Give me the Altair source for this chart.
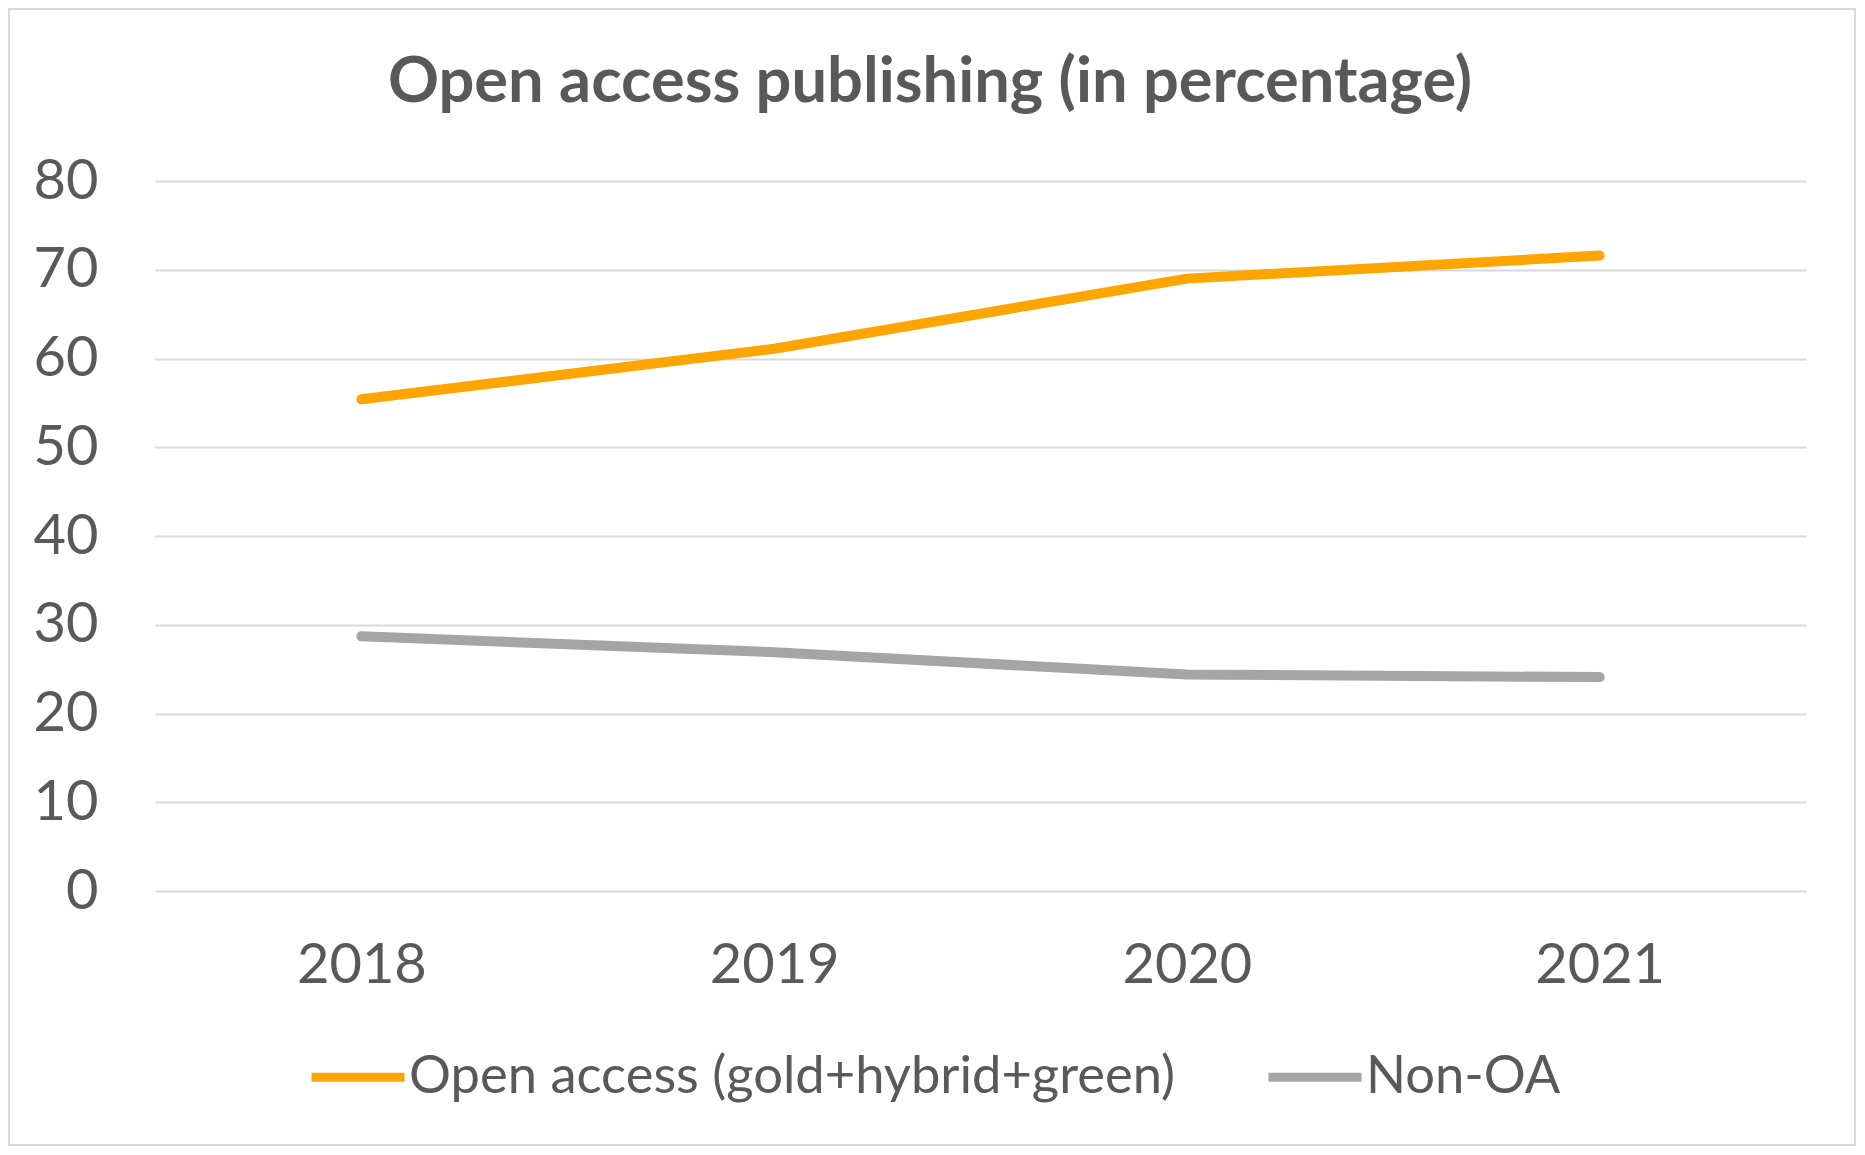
import altair as alt
import pandas as pd

years = ["2018", "2019", "2020", "2021"]
open_access = [55.4, 61.1, 69.0, 71.6]
non_oa = [28.7, 26.9, 24.4, 24.1]
series_names = ["Open access (gold+hybrid+green)", "Non-OA"]
series_colors = ["#FFA500", "#A5A5A5"]

rows = []
for y, v in zip(years, open_access):
    rows.append({"year": y, "value": v, "series": series_names[0]})
for y, v in zip(years, non_oa):
    rows.append({"year": y, "value": v, "series": series_names[1]})
df = pd.DataFrame(rows)

FONT = "Lato"
TXT = "#595959"
W, H = 1651, 710
PL, PT, PR, PB = 147, 173, 51, 256

lines = alt.Chart(df).mark_line(strokeWidth=10, strokeCap="round", strokeJoin="round").encode(
    x=alt.X("year:N", sort=years, scale=alt.Scale(type="point", padding=0.5),
            axis=alt.Axis(title=None, labelAngle=0, ticks=False, tickSize=0, domain=False,
                          grid=False, labelFontSize=56, labelColor=TXT, labelFont=FONT,
                          labelPadding=91, labelBaseline="alphabetic")),
    y=alt.Y("value:Q", scale=alt.Scale(domain=[0, 80], nice=False),
            axis=alt.Axis(title=None, values=[0, 10, 20, 30, 40, 50, 60, 70, 80],
                          ticks=False, tickSize=0, domain=False, gridColor="#D9D9D9",
                          gridWidth=2, labelFontSize=56, labelColor=TXT, labelFont=FONT,
                          labelPadding=57)),
    color=alt.Color("series:N", sort=series_names,
                    scale=alt.Scale(domain=series_names, range=series_colors),
                    legend=alt.Legend(title=None, orient="none", direction="horizontal",
                                      legendX=152, legendY=845, symbolType="stroke",
                                      symbolSize=8649, symbolStrokeWidth=9,
                                      labelFontSize=52.5, labelColor=TXT, labelFont=FONT,
                                      labelOffset=0, columnPadding=74, labelLimit=1000)),
)

frame = alt.Chart(alt.Data(values=[{"a": 1}])).mark_rect(
    fill=None, stroke="#D9D9D9", strokeWidth=2
).encode(
    x=alt.value(-146), x2=alt.value(W + PR - 2),
    y=alt.value(-PT + 1), y2=alt.value(H + PB - 2),
)

title_layer = alt.Chart(alt.Data(values=[{"t": "Open access publishing (in percentage)"}])).mark_text(
    fontSize=63.2, font=FONT, fontWeight="bold", color=TXT, align="center", baseline="alphabetic"
).encode(
    text="t:N", x=alt.value(W / 2 - 50.5), y=alt.value(-79),
)

chart = alt.layer(frame, lines, title_layer).properties(
    width=W, height=H,
    background="white",
    autosize=alt.AutoSizeParams(type="none"),
    padding={"left": PL, "top": PT, "right": PR, "bottom": PB},
).configure_view(strokeWidth=0, stroke="transparent")

chart.save("out.html", embed_options={"renderer": "svg", "actions": False})
